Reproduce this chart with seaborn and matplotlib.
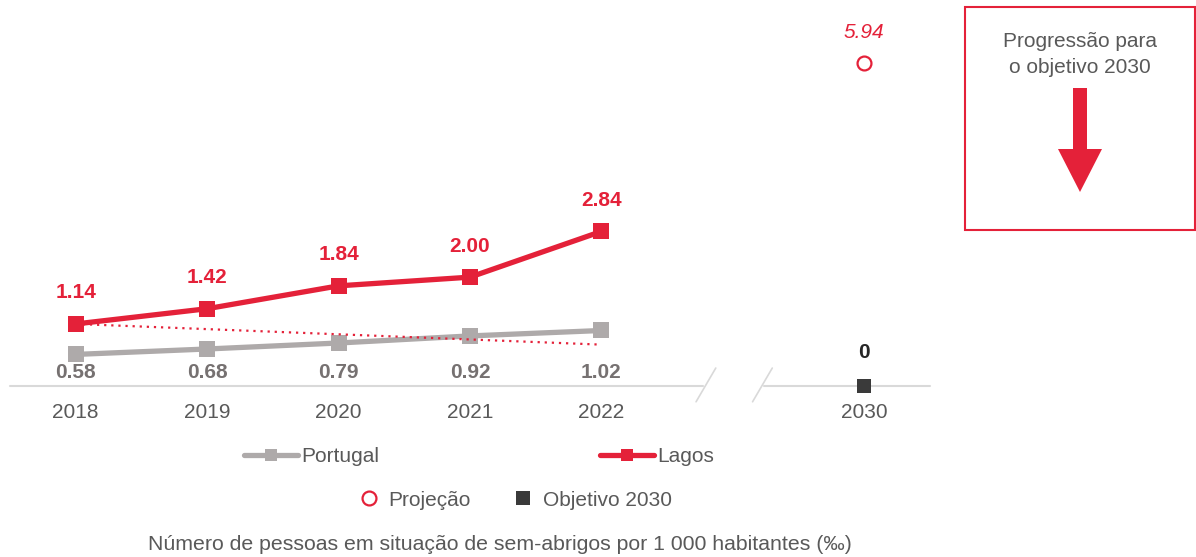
import matplotlib
matplotlib.use("Agg")
import matplotlib.pyplot as plt
from matplotlib.lines import Line2D
from matplotlib.patches import Rectangle, Polygon
import seaborn as sns
import pandas as pd

# ---- data ----
years = [2018, 2019, 2020, 2021, 2022]
lagos = [1.14, 1.42, 1.84, 2.00, 2.84]
portugal = [0.58, 0.68, 0.79, 0.92, 1.02]
target_year = 2030
target_value = 0
projection_value = 5.94
path_years = [2018, 2022]
path_values = [1.14, 0.76]

RED = "#e42139"
GRAY = "#aeaaaa"
GRAY_TXT = "#767171"
DARK = "#3a3a3a"
TXT = "#595959"

def pos(y):
    # axis break: 2030 placed two slots after 2022
    return y - 2018 if y <= 2022 else 6

sns.set_theme(style="white")
plt.rcParams["font.family"] = ["Liberation Sans", "DejaVu Sans"]

W, H = 1196, 557
fig = plt.figure(figsize=(W / 100, H / 100), dpi=100)
ax = fig.add_axes([10 / W, 1 - 386 / H, 920 / W, 381 / H])

df = pd.DataFrame({
    "pos": [pos(y) for y in years] * 2,
    "value": portugal + lagos,
    "serie": ["Portugal"] * len(years) + ["Lagos"] * len(years),
})
sns.lineplot(data=df, x="pos", y="value", hue="serie", style="serie",
             palette={"Portugal": GRAY, "Lagos": RED},
             markers={"Portugal": "s", "Lagos": "s"}, dashes=False,
             markersize=11, markeredgewidth=0, linewidth=3.8,
             legend=False, ax=ax, zorder=3)

# trajectory to target (dotted)
ax.plot([pos(y) for y in path_years], path_values, color=RED, lw=1.6,
        ls=(0, (1, 2.2)), zorder=4)

# projection & target
ax.plot([pos(target_year)], [projection_value], marker="o", ms=10,
        mfc="white", mec=RED, mew=1.6, ls="none", zorder=5)
ax.plot([pos(target_year)], [target_value], marker="s", ms=10,
        color=DARK, mew=0, ls="none", zorder=5, clip_on=False)

# labels
for y, v in zip(years, lagos):
    ax.annotate(f"{v:.2f}", (pos(y), v), xytext=(0, 15.5), textcoords="offset points",
                ha="center", va="bottom", fontsize=15, fontweight="bold", color=RED)
for y, v in zip(years, portugal):
    ax.annotate(f"{v:.2f}", (pos(y), 0.42), ha="center", va="top", fontsize=15,
                fontweight="bold", color=GRAY_TXT)
ax.annotate(f"{target_value}", (pos(target_year), target_value), xytext=(0, 17),
            textcoords="offset points", ha="center", va="bottom", fontsize=15,
            fontweight="bold", color="#262626")
ax.annotate(f"{projection_value:.2f}", (pos(target_year), projection_value),
            xytext=(0, 15), textcoords="offset points", ha="center", va="bottom",
            fontsize=15, fontstyle="italic", color=RED)

# axis
ax.set_xlim(-0.5, 6.5)
ax.set_ylim(0, 7)
for s in ax.spines.values():
    s.set_visible(False)
ax.set_yticks([])
ax.set_xticks([pos(y) for y in years] + [pos(target_year)])
ax.set_xticklabels([str(y) for y in years] + [str(target_year)], fontsize=15, color=TXT)
ax.tick_params(axis="x", length=0, pad=12)
ax.set_xlabel("")
ax.set_ylabel("")

AX_C = "#d9d9d9"
ax.plot([-0.5, 4.77], [0, 0], color=AX_C, lw=1.5, clip_on=False, zorder=1)
ax.plot([5.24, 6.5], [0, 0], color=AX_C, lw=1.5, clip_on=False, zorder=1)
ax.plot([4.72, 4.87], [-0.29, 0.33], color=AX_C, lw=1.2, clip_on=False, zorder=1)
ax.plot([5.15, 5.30], [-0.29, 0.33], color=AX_C, lw=1.2, clip_on=False, zorder=1)

# legends
h1 = [Line2D([], [], color=GRAY, lw=3.8, marker="s", ms=8, mew=0),
      Line2D([], [], color=RED, lw=3.8, marker="s", ms=8, mew=0)]
leg1 = fig.legend(h1, ["Portugal", "Lagos"], ncol=2, loc="center",
                  bbox_to_anchor=(479 / W, 1 - 457 / H), frameon=False,
                  fontsize=15, handlelength=2.6, handletextpad=0.15,
                  columnspacing=10.6, labelcolor=TXT)
h2 = [Line2D([], [], marker="o", ms=10, mfc="white", mec=RED, mew=1.6, ls="none"),
      Line2D([], [], marker="s", ms=10, color=DARK, mew=0, ls="none")]
leg2 = fig.legend(h2, ["Projeção", "Objetivo 2030"], ncol=2, loc="center",
                  bbox_to_anchor=(515 / W, 1 - 500 / H), frameon=False,
                  fontsize=15, handlelength=1.0, handletextpad=0.45,
                  columnspacing=2.0, labelcolor=TXT)

fig.text(500 / W, 1 - 545 / H,
         "Número de pessoas em situação de sem-abrigos por 1 000 habitantes (‰)",
         ha="center", va="center", fontsize=15.3, color=TXT)

# box with arrow
bx = fig.add_axes([964 / W, 1 - 231 / H, 232 / W, 225 / H])
bx.set_xlim(0, 232)
bx.set_ylim(225, 0)
bx.axis("off")
bx.add_patch(Rectangle((1, 1), 230, 223, fill=False, ec=RED, lw=1.5, clip_on=False))
bx.text(116, 48.5, "Progressão para\no objetivo 2030", ha="center", va="center",
        fontsize=15, color=TXT, linespacing=1.45)
arrow = [(109, 82), (123, 82), (123, 143), (138, 143), (116, 186), (94, 143), (109, 143)]
bx.add_patch(Polygon(arrow, closed=True, fc=RED, ec="none"))

fig.savefig("out.png", dpi=100)
